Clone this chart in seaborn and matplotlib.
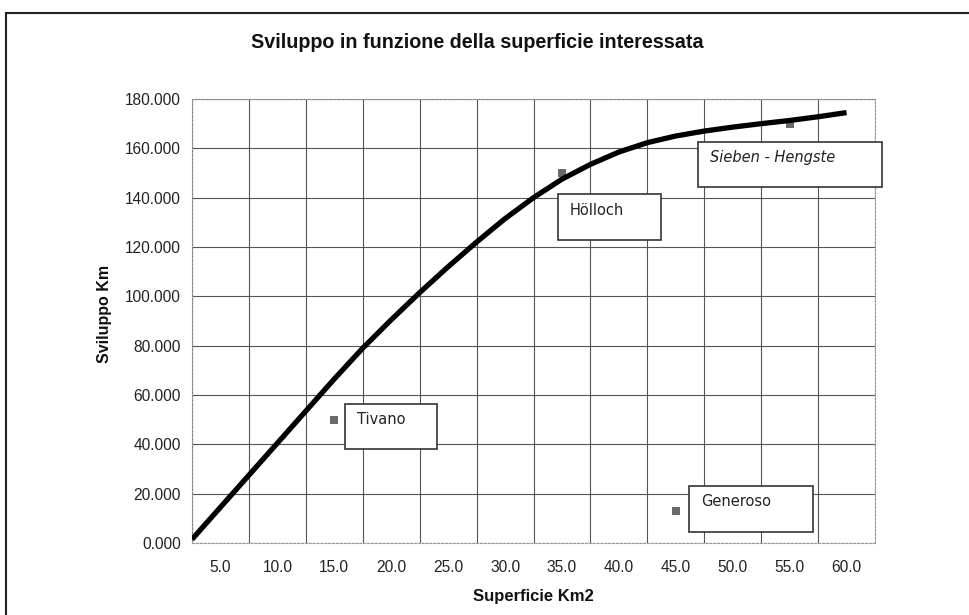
import matplotlib
matplotlib.use("Agg")
import matplotlib.pyplot as plt
from matplotlib.patches import Rectangle
from matplotlib.ticker import FixedLocator, FuncFormatter, NullFormatter
import numpy as np
import pandas as pd
import seaborn as sns

# curva sviluppo (Km) in funzione della superficie (Km2)
curve_x = [2.5, 5.0, 7.5, 10.0, 12.5, 15.0, 17.5, 20.0, 22.5, 25.0, 27.5, 30.0,
           32.5, 35.0, 37.5, 40.0, 42.5, 45.0, 47.5, 50.0, 52.5, 55.0, 57.5, 60.0]
curve_y = [1.5, 14.5, 27.5, 40.5, 53.5, 66.5, 79.0, 90.5, 101.5, 112.0, 122.0, 131.5,
           140.0, 147.5, 153.5, 158.5, 162.3, 165.0, 167.0, 168.6, 170.0, 171.3, 172.8, 174.5]

# grotte
caves = ["Tivano", "Hölloch", "Sieben - Hengste", "Generoso"]
cave_x = [15.0, 35.0, 55.0, 45.0]
cave_y = [50.0, 150.0, 170.0, 13.0]

xtick_labels = [5.0, 10.0, 15.0, 20.0, 25.0, 30.0, 35.0, 40.0, 45.0, 50.0, 55.0, 60.0]

sns.set_style("white")
plt.rcParams['font.family'] = ['Liberation Sans', 'DejaVu Sans']

W, H = 969, 615
fig = plt.figure(figsize=(W / 100, H / 100), dpi=100)
ax = fig.add_axes([192 / W, (H - 543) / H, (875 - 192) / W, (543 - 99) / H])

curve = pd.DataFrame({'x': curve_x, 'y': curve_y})
pts = pd.DataFrame({'x': cave_x, 'y': cave_y, 'nome': caves})

sns.lineplot(data=curve, x='x', y='y', ax=ax, color='black', linewidth=3.8,
             solid_capstyle='butt', solid_joinstyle='round', zorder=4)
sns.scatterplot(data=pts, x='x', y='y', ax=ax, marker='s', s=34, color='#6a6a6a',
                edgecolor='none', zorder=3)

ax.set_xlim(2.5, 62.5)
ax.set_ylim(0, 180)

# griglia sui bordi delle categorie, etichette al centro
ax.xaxis.set_major_locator(FixedLocator(np.arange(2.5, 63, 5)))
ax.xaxis.set_major_formatter(NullFormatter())
ax.xaxis.set_minor_locator(FixedLocator(xtick_labels))
ax.xaxis.set_minor_formatter(FuncFormatter(lambda v, p: f"{v:.1f}"))
ax.yaxis.set_major_locator(FixedLocator(np.arange(0, 181, 20)))
ax.yaxis.set_major_formatter(FuncFormatter(lambda v, p: f"{v:.3f}"))

ax.tick_params(axis='x', which='major', direction='out', length=5, width=0.8, color='#555')
ax.tick_params(axis='x', which='minor', length=0, labelsize=11.2, pad=12, labelcolor='#222')
ax.tick_params(axis='y', which='major', direction='out', length=5, width=0.8, color='#555',
               labelsize=11.2, pad=3, labelcolor='#222')

ax.grid(True, which='major', color='#555555', linewidth=0.8)
for s in ax.spines.values():
    s.set_visible(True)
    s.set_color('#9a9a9a')
    s.set_linewidth(0.8)
    s.set_linestyle((0, (2, 1.5)))

ax.set_xlabel('')
ax.set_ylabel('')

fig.text(477 / W, 1 - 43 / H, 'Sviluppo in funzione della superficie interessata',
         ha='center', va='center', fontsize=14.2, fontweight='bold', color='#111')
fig.text(533 / W, 1 - 596 / H, 'Superficie Km2', ha='center', va='center',
         fontsize=12, fontweight='bold', color='#111')
fig.text(105 / W, 1 - 314 / H, 'Sviluppo Km', ha='center', va='center', rotation=90,
         fontsize=11.5, fontweight='bold', color='#111')

# riquadri delle etichette (offset in pixel dal punto)
box_dx = [11, -4, -92, 13]
box_dy = [-16, 21, 18, -25]
box_w = [92, 103, 184, 124]
box_h = [45, 46, 45, 46]
italic = [False, False, True, False]

fig.canvas.draw()
for i, name in enumerate(caves):
    px, py = ax.transData.transform((cave_x[i], cave_y[i]))
    py = H - py
    left = px + box_dx[i]
    top = py + box_dy[i]
    fig.add_artist(Rectangle((left / W, 1 - (top + box_h[i]) / H), box_w[i] / W, box_h[i] / H,
                             transform=fig.transFigure, facecolor='white',
                             edgecolor='#333333', linewidth=1.2, zorder=5))
    fig.text((left + 12) / W, 1 - (top + 16) / H, name, ha='left', va='center',
             fontsize=10.5, family='DejaVu Sans', color='#222',
             style='italic' if italic[i] else 'normal', zorder=6)

# cornice esterna
fig.add_artist(Rectangle((6 / W, -0.05), 1.1, 1 - 13 / H + 0.05, transform=fig.transFigure,
                         fill=False, edgecolor='#222', linewidth=1.5))

fig.savefig('out.png', dpi=100)
